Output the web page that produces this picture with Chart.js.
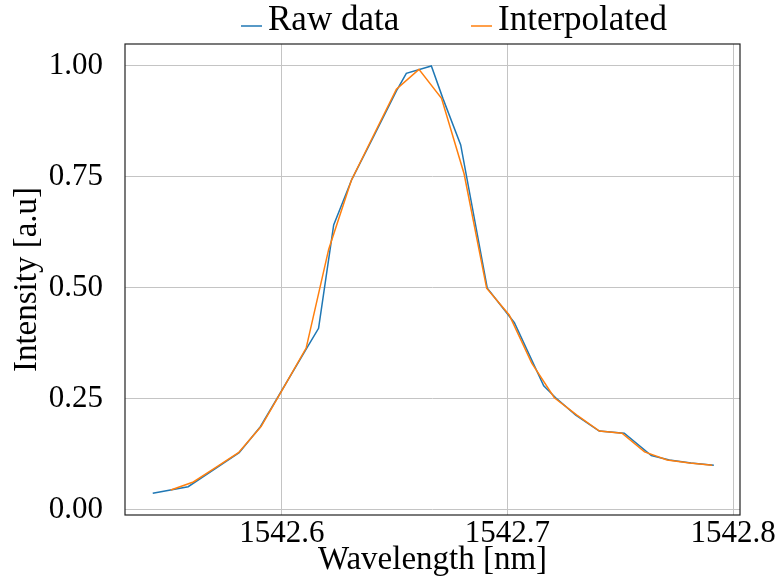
<!DOCTYPE html>
<html>
<head>
<meta charset="utf-8">
<script src="https://cdn.jsdelivr.net/npm/chart.js@4.4.0/dist/chart.umd.min.js"></script>
<style>
  html, body { margin: 0; padding: 0; background: #fff; }
  #spectrum { display: block; }
</style>
</head>
<body>
<canvas id="spectrum" width="777" height="581"></canvas>
<script>
// measured spectrum (irregular sampling)
const rawX = [1542.5428, 1542.5585, 1542.5811, 1542.5905, 1542.6112, 1542.6163, 1542.6230, 1542.6311,
  1542.6411, 1542.6512, 1542.6552, 1542.6663, 1542.6714, 1542.6793, 1542.6911, 1542.7031, 1542.7161,
  1542.7214, 1542.7303, 1542.7407, 1542.7518, 1542.7638, 1542.7718, 1542.7814, 1542.7915];
const rawY = [0.0365, 0.0514, 0.1281, 0.1867, 0.3648, 0.4086, 0.6415, 0.745,
  0.845, 0.9475, 0.9835, 1.000, 0.927, 0.822, 0.4988, 0.4212, 0.2791,
  0.252, 0.213, 0.177, 0.172, 0.1218, 0.1116, 0.105, 0.100];

// interpolated on a 0.01 nm grid
const interpX = [1542.5508, 1542.5608, 1542.5708, 1542.5808, 1542.5908, 1542.6008, 1542.6108, 1542.6208,
  1542.6308, 1542.6408, 1542.6508, 1542.6608, 1542.6708, 1542.6808, 1542.6908, 1542.7008, 1542.7108,
  1542.7208, 1542.7308, 1542.7408, 1542.7508, 1542.7608, 1542.7708, 1542.7808, 1542.7908];
const interpY = [0.044, 0.062, 0.095, 0.128, 0.187, 0.275, 0.364, 0.587,
  0.742, 0.845, 0.9475, 0.9925, 0.927, 0.757, 0.499, 0.4385, 0.33,
  0.252, 0.213, 0.177, 0.172, 0.130, 0.1116, 0.105, 0.100];

const xTicks = [1542.6, 1542.7, 1542.8];
const yTicks = [0.00, 0.25, 0.50, 0.75, 1.00];
const seriesNames = ['Raw data', 'Interpolated'];

const FONT = 'Liberation Serif';

function pairs(xs, ys) {
  return xs.map((x, i) => ({ x: x, y: ys[i] }));
}

// legend drawn above the plot, pgfplots style (short line + label)
const topLegend = {
  id: 'topLegend',
  afterDraw(chart) {
    const c = chart.ctx;
    const starts = [241, 471];
    c.save();
    c.font = '35px "' + FONT + '"';
    c.textBaseline = 'alphabetic';
    c.textAlign = 'left';
    chart.data.datasets.slice().sort((a, b) => a.legendIndex - b.legendIndex).forEach((ds, i) => {
      const x0 = starts[i];
      c.strokeStyle = ds.borderColor;
      c.lineWidth = 1.5;
      c.beginPath();
      c.moveTo(x0, 26);
      c.lineTo(x0 + 21, 26);
      c.stroke();
      c.fillStyle = '#000';
      c.fillText(ds.label, x0 + 27, 30);
    });
    c.restore();
  }
};

// full box around the plot area
const frame = {
  id: 'frame',
  afterDatasetsDraw(chart) {
    const a = chart.chartArea;
    const c = chart.ctx;
    c.save();
    c.strokeStyle = '#222';
    c.lineWidth = 1.2;
    c.strokeRect(a.left, a.top, a.right - a.left, a.bottom - a.top);
    c.restore();
  }
};

new Chart(document.getElementById('spectrum'), {
  type: 'line',
  data: {
    datasets: [
      {
        label: seriesNames[0],
        legendIndex: 0,
        data: pairs(rawX, rawY),
        borderColor: '#1f77b4',
        borderWidth: 1.5,
        pointRadius: 0,
        tension: 0,
        order: 1
      },
      {
        label: seriesNames[1],
        legendIndex: 1,
        data: pairs(interpX, interpY),
        borderColor: '#ff7f0e',
        borderWidth: 1.5,
        pointRadius: 0,
        tension: 0,
        order: 0
      }
    ]
  },
  options: {
    responsive: false,
    animation: false,
    layout: { padding: { top: 44, right: 37, left: 0, bottom: 0 } },
    plugins: {
      legend: { display: false },
      tooltip: { enabled: false }
    },
    scales: {
      x: {
        type: 'linear',
        min: 1542.5305,
        max: 1542.8031,
        afterFit: (s) => { s.height = 66; },
        afterBuildTicks: (s) => { s.ticks = xTicks.map(v => ({ value: v })); },
        ticks: {
          color: '#000',
          padding: 0,
          font: { family: FONT, size: 31 },
          callback: (v) => Number(v).toFixed(1)
        },
        grid: { color: '#c4c4c4', lineWidth: 1, drawTicks: false },
        border: { display: false },
        title: {
          display: true,
          text: 'Wavelength [nm]',
          color: '#000',
          font: { family: FONT, size: 33 },
          padding: { top: 0, bottom: 1 }
        }
      },
      y: {
        type: 'linear',
        min: -0.0124,
        max: 1.0496,
        afterFit: (s) => { s.width = 125; },
        afterBuildTicks: (s) => { s.ticks = yTicks.map(v => ({ value: v })); },
        ticks: {
          color: '#000',
          padding: 22,
          font: { family: FONT, size: 31 },
          callback: (v) => Number(v).toFixed(2)
        },
        grid: { color: '#c4c4c4', lineWidth: 1, drawTicks: false },
        border: { display: false },
        title: {
          display: true,
          text: 'Intensity [a.u]',
          color: '#000',
          font: { family: FONT, size: 33 },
          padding: { top: 8, bottom: 0 }
        }
      }
    }
  },
  plugins: [topLegend, frame]
});
</script>
</body>
</html>
